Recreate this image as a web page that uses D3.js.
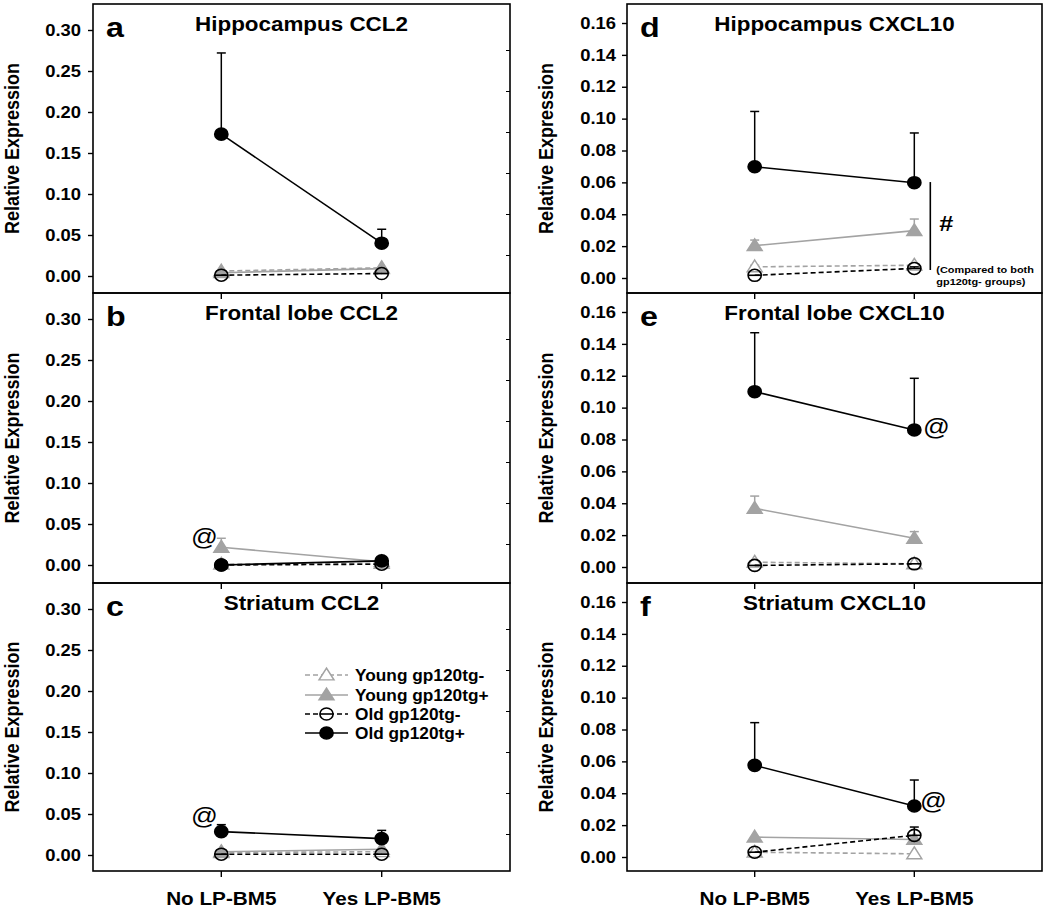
<!DOCTYPE html>
<html><head><meta charset="utf-8">
<script src="https://cdn.jsdelivr.net/npm/d3@7"></script>
<style>
body{margin:0;background:#fff}
svg{display:block}
text{font-family:"Liberation Sans",Arial,Helvetica,sans-serif}
</style>
</head><body>
<svg id="chart" width="1050" height="908"></svg>
<script>
// ---------- DATA ----------
const categories = ["No LP-BM5", "Yes LP-BM5"];
const seriesNames = ["Young gp120tg-", "Young gp120tg+", "Old gp120tg-", "Old gp120tg+"];
const ccl2Ticks = [0, 0.05, 0.10, 0.15, 0.20, 0.25, 0.30];
const ccl2MinorTicks = [0.025, 0.075, 0.125, 0.175, 0.225, 0.275];
const cxcl10Ticks = [0, 0.02, 0.04, 0.06, 0.08, 0.10, 0.12, 0.14, 0.16];

// means per series: [No LP-BM5, Yes LP-BM5]; errors are upper SEM bars
const hipCCL2Mean   = [[0.006, 0.010], [0.004, 0.009], [0.001, 0.003], [0.173, 0.040]];
const hipCCL2Err    = [[0, 0], [0, 0], [0, 0], [0.099, 0.017]];
const frontCCL2Mean = [[0.001, 0.002], [0.0216, 0.004], [0.000, 0.001], [0.000, 0.005]];
const frontCCL2Err  = [[0, 0], [0.011, 0], [0, 0], [0, 0]];
const striCCL2Mean  = [[0.003, 0.004], [0.004, 0.007], [0.001, 0.001], [0.0285, 0.020]];
const striCCL2Err   = [[0, 0], [0, 0], [0, 0], [0.0085, 0.010]];

const hipCXCL10Mean   = [[0.007, 0.008], [0.0203, 0.0297], [0.0017, 0.006], [0.0698, 0.0598]];
const hipCXCL10Err    = [[0.001, 0.001], [0.0035, 0.0073], [0, 0.001], [0.0347, 0.0312]];
const frontCXCL10Mean = [[0.003, 0.002], [0.0368, 0.018], [0.001, 0.002], [0.110, 0.086]];
const frontCXCL10Err  = [[0, 0], [0.0077, 0.0042], [0, 0], [0.037, 0.0324]];
const striCXCL10Mean  = [[0.003, 0.002], [0.0125, 0.011], [0.003, 0.0136], [0.0575, 0.032]];
const striCXCL10Err   = [[0, 0], [0, 0], [0, 0.0052], [0.0268, 0.0163]];

const panelLetters = ["a", "b", "c", "d", "e", "f"];
const panelTitles = ["Hippocampus CCL2", "Frontal lobe CCL2", "Striatum CCL2",
                     "Hippocampus CXCL10", "Frontal lobe CXCL10", "Striatum CXCL10"];
// "@" annotations: [panel index, category index, value, x offset]
const atMarks = [[1, 0, 0.024, -17], [2, 0, 0.038, -17], [4, 1, 0.083, 22], [5, 1, 0.030, 19]];
// "#" bracket in panel d: [from, to]
const hashBracket = [0.005, 0.0602];
const hashNote = ["(Compared to both", "gp120tg- groups)"];

// ---------- LAYOUT ----------
const svg = d3.select("#chart");
const FONT = '"Liberation Sans", Arial, Helvetica, sans-serif';
const SX = 1.15;
const colX = [[93, 510], [627, 1042]];
const rowTop = [4, 293, 583];
const rowBot = [293, 583, 871];

const styles = [
  {color: "#a3a3a3", dash: "5,3", shape: "triangle", fill: "#ffffff", open: true},
  {color: "#a3a3a3", dash: null,  shape: "triangle", fill: "#a3a3a3", open: false},
  {color: "#000000", dash: "5,3", shape: "circle",   fill: "none",    open: true},
  {color: "#000000", dash: null,  shape: "circle",   fill: "#000000", open: false}
];

const panels = [
  {means: hipCCL2Mean, errs: hipCCL2Err},
  {means: frontCCL2Mean, errs: frontCCL2Err},
  {means: striCCL2Mean, errs: striCCL2Err},
  {means: hipCXCL10Mean, errs: hipCXCL10Err},
  {means: frontCXCL10Mean, errs: frontCXCL10Err},
  {means: striCXCL10Mean, errs: striCXCL10Err}
];

function stretched(g, x, y, txt, size, weight, anchor) {
  return g.append("text")
    .attr("transform", `translate(${x},${y}) scale(${SX},1)`)
    .attr("font-family", FONT).attr("font-size", size)
    .attr("font-weight", weight || "bold")
    .attr("text-anchor", anchor || "start")
    .attr("fill", "#000").text(txt);
}

function drawMarker(g, st, x, y, fillOverride) {
  const fill = fillOverride || st.fill;
  if (st.shape === "circle") {
    g.append("ellipse").attr("cx", x).attr("cy", y).attr("rx", 6.6).attr("ry", 6)
      .attr("fill", fill).attr("stroke", st.color).attr("stroke-width", 1.6);
    if (st.open) {
      g.append("line").attr("x1", x - 6.6).attr("x2", x + 6.6).attr("y1", y).attr("y2", y)
        .attr("stroke", st.color).attr("stroke-width", 1.6);
    }
  } else {
    g.append("path").attr("d", d3.symbol(d3.symbolTriangle, 80)())
      .attr("transform", `translate(${x},${y + 1}) scale(${1.1},1)`)
      .attr("fill", fill).attr("stroke", st.color).attr("stroke-width", 1.4);
  }
}

panels.forEach((p, i) => {
  const col = i < 3 ? 0 : 1;
  const row = i % 3;
  const [x0, x1] = colX[col];
  const top = rowTop[row], bot = rowBot[row];
  const g = svg.append("g");

  const x = d3.scalePoint().domain(categories).range([x0, x1]).padding(0.8);
  const y = col === 0
    ? d3.scaleLinear().domain([0, 0.30]).range([top + 272, top + 26])
    : d3.scaleLinear().domain([0, 0.16]).range([top + 274, top + 19]);
  const ticks = col === 0 ? ccl2Ticks : cxcl10Ticks;

  // left axis
  const ax = g.append("g").attr("transform", `translate(${x0},0)`)
    .call(d3.axisLeft(y).tickValues(ticks).tickFormat(d3.format(".2f")).tickSize(5).tickPadding(8));
  ax.select(".domain").remove();
  ax.selectAll(".tick line").attr("stroke", "#000").attr("stroke-width", 1.4);
  ax.selectAll(".tick text")
    .attr("x", -(col === 0 ? 12 : 11) / SX)
    .attr("transform", `scale(${SX},1)`)
    .attr("font-family", FONT).attr("font-size", 16).attr("font-weight", "bold").attr("fill", "#000");

  // right minor ticks (CCL2 column)
  if (col === 0) {
    ccl2MinorTicks.forEach(v => {
      g.append("line").attr("x1", x1 - 4).attr("x2", x1).attr("y1", y(v)).attr("y2", y(v))
        .attr("stroke", "#000").attr("stroke-width", 1);
    });
  }

  // bottom ticks
  categories.forEach(c => {
    g.append("line").attr("x1", x(c)).attr("x2", x(c)).attr("y1", bot).attr("y2", bot + 6)
      .attr("stroke", "#000").attr("stroke-width", 1.4);
  });

  // frame
  g.append("rect").attr("x", x0).attr("y", top).attr("width", x1 - x0).attr("height", bot - top)
    .attr("fill", "none").attr("stroke", "#000").attr("stroke-width", 1.6);

  // y label
  const lx = col === 0 ? 19 : 553;
  g.append("text")
    .attr("transform", `translate(${lx},${(top + bot) / 2}) scale(${SX},1) rotate(-90)`)
    .attr("font-family", FONT).attr("font-size", 18).attr("font-weight", "bold")
    .attr("text-anchor", "middle").text("Relative Expression");

  // title & letter
  stretched(g, (x0 + x1) / 2, top + 27, panelTitles[i], 19.5, "bold", "middle");
  stretched(g, x0 + 13, top + 33, panelLetters[i], 28, "bold", "start");

  // series
  p.means.forEach((m, s) => {
    const st = styles[s];
    const pts = categories.map((c, k) => [x(c), y(m[k])]);
    categories.forEach((c, k) => {
      const e = p.errs[s][k];
      if (e > 0) {
        const yt = y(m[k] + e);
        g.append("line").attr("x1", x(c)).attr("x2", x(c)).attr("y1", y(m[k])).attr("y2", yt)
          .attr("stroke", st.color).attr("stroke-width", 1.5);
        g.append("line").attr("x1", x(c) - 4.5).attr("x2", x(c) + 4.5).attr("y1", yt).attr("y2", yt)
          .attr("stroke", st.color).attr("stroke-width", 1.5);
      }
    });
    g.append("path").attr("d", d3.line()(pts)).attr("fill", "none")
      .attr("stroke", st.color).attr("stroke-width", 1.6)
      .attr("stroke-dasharray", st.dash);
    pts.forEach(pt => drawMarker(g, st, pt[0], pt[1]));
  });

  // x labels on bottom row
  if (row === 2) {
    categories.forEach(c => stretched(g, x(c), 905, c, 18, "bold", "middle"));
  }

  // "@" marks
  atMarks.filter(a => a[0] === i).forEach(a => {
    stretched(g, x(categories[a[1]]) + a[3], y(a[2]), "@", 23, "normal", "middle");
  });

  // "#" bracket in panel d
  if (i === 3) {
    const bx = x(categories[1]) + 16;
    g.append("line").attr("x1", bx).attr("x2", bx).attr("y1", y(hashBracket[1])).attr("y2", y(hashBracket[0]))
      .attr("stroke", "#000").attr("stroke-width", 1.6);
    stretched(g, bx + 9, 231, "#", 22, "bold", "start");
    stretched(g, bx + 6, 273, hashNote[0], 9.5, "bold", "start");
    stretched(g, bx + 6, 285, hashNote[1], 9.5, "bold", "start");
  }

  // legend in panel c
  if (i === 2) {
    const lg = g.append("g");
    const rowsY = [675, 695, 714, 733];
    seriesNames.forEach((n, s) => {
      const st = styles[s];
      const yy = rowsY[s];
      lg.append("line").attr("x1", 305).attr("x2", 348).attr("y1", yy).attr("y2", yy)
        .attr("stroke", st.color).attr("stroke-width", 1.6).attr("stroke-dasharray", st.dash);
      drawMarker(lg, st, 326.5, yy, st.open ? "#fff" : null);
      lg.append("text")
        .attr("transform", `translate(355,${yy + 6}) scale(1.08,1)`)
        .attr("font-family", FONT).attr("font-size", 16).attr("font-weight", "bold")
        .attr("fill", "#000").text(n);
    });
  }
});
</script>
</body></html>
